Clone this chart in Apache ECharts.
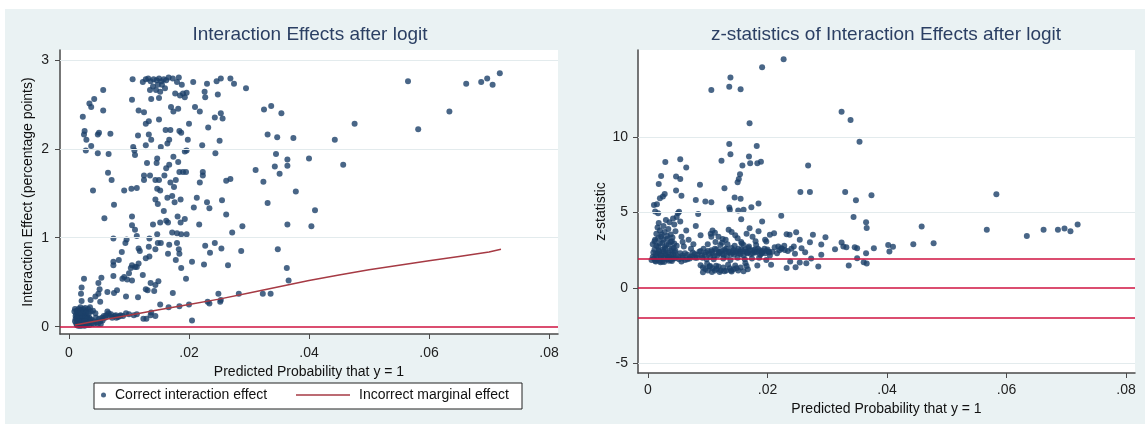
<!DOCTYPE html>
<html><head><meta charset="utf-8">
<script src="https://cdn.jsdelivr.net/npm/echarts@6/dist/echarts.min.js"></script>
<style>
html,body{margin:0;padding:0;background:#fff;}
#bg{position:absolute;left:5px;top:9px;width:1140px;height:415px;background:#eaf2f3;}
#chart{position:absolute;left:0;top:0;width:1145px;height:425px;}
</style></head><body>
<div id="bg"></div><div id="chart"></div>
<script>
const xTicks = [0, 0.02, 0.04, 0.06, 0.08];
const leftYTicks = [0, 1, 2, 3];
const rightYTicks = [-5, 0, 5, 10];
const leftGridLines = [1, 2, 3];
const rightGridLines = [-5, 5, 10];
const leftRefLines = [0];
const zCritical = [1.96, 0, -1.96];
const leftTitle = 'Interaction Effects after logit';
const rightTitle = 'z-statistics of Interaction Effects after logit';
const xName = 'Predicted Probability that y = 1';
const leftYName = 'Interaction Effect (percentage points)';
const rightYName = 'z-statistic';
const seriesNames = ['Correct interaction effect', 'Incorrect marginal effect'];

const interactionEffect = [
[0.0718,2.85],[0.0697,2.79],[0.0687,2.75],[0.0706,2.72],[0.0662,2.73],[0.0565,2.76],[0.0634,2.42],[0.0582,2.22],[0.0476,2.28],[0.0443,2.10],[0.0457,1.82],[0.0400,1.89],[0.0410,1.31],[0.0404,1.13],[0.0374,2.12],[0.0354,2.40],[0.0337,2.48],[0.0325,2.44],[0.0331,2.16],[0.0347,2.13],[0.0345,1.94],[0.0364,1.88],[0.0364,1.81],[0.0343,1.80],[0.0351,1.72],[0.0311,1.76],[0.0324,1.63],[0.0378,1.52],[0.0331,1.39],[0.0364,1.15],[0.0348,0.87],[0.0363,0.66],[0.0366,0.52],[0.0323,0.37],[0.0336,0.37],
[0.0295,2.68],[0.0269,2.79],[0.0275,2.73],[0.0253,2.79],[0.0246,2.76],[0.0248,2.61],[0.0230,2.73],[0.0226,2.64],[0.0227,2.58],[0.0210,2.47],[0.0218,2.42],[0.0207,2.75],[0.0253,2.40],[0.0256,2.34],[0.0243,2.35],[0.0232,2.24],[0.0251,2.09],[0.0222,2.04],[0.0244,1.95],[0.0223,1.74],[0.0223,1.70],[0.0218,1.62],[0.0230,1.40],[0.0255,1.42],[0.0213,1.45],[0.0234,1.33],[0.0208,1.34],[0.0262,1.26],[0.0269,1.66],[0.0262,1.64],[0.0272,1.06],[0.0289,1.13],[0.0217,1.15],[0.0227,0.91],[0.0243,0.94],[0.0235,0.83],[0.0254,0.88],[0.0287,0.85],[0.0265,0.69],[0.0205,0.73],[0.0225,0.70],[0.0195,0.54],[0.0249,0.37],[0.0231,0.28],[0.0234,0.26],[0.0253,0.30],[0.0252,0.28],[0.0283,0.37],[0.0205,0.07],[0.0200,0.25],
[0.0106,2.78],[0.0123,2.75],[0.0128,2.78],[0.0132,2.79],[0.0136,2.76],[0.0141,2.78],[0.0146,2.77],[0.0150,2.79],[0.0154,2.76],[0.0158,2.78],[0.0162,2.77],[0.0155,2.72],[0.0148,2.72],[0.0140,2.70],[0.0135,2.66],[0.0145,2.66],[0.0152,2.64],[0.0160,2.68],[0.0166,2.80],[0.0173,2.79],[0.0183,2.80],[0.0180,2.75],[0.0177,2.62],[0.0185,2.60],[0.0190,2.62],[0.0193,2.58],[0.0196,2.63],[0.0174,2.42],[0.0170,2.47],[0.0182,2.45],[0.0188,2.72],
[0.0137,2.56],[0.0150,2.57],[0.0116,2.43],[0.0125,2.41],[0.0128,2.28],[0.0133,2.31],[0.0150,2.33],[0.0105,2.55],[0.0133,2.16],[0.0115,2.15],[0.0137,2.10],[0.0161,2.21],[0.0169,2.21],[0.0167,2.10],[0.0184,2.20],[0.0187,2.18],[0.0200,2.28],[0.0198,2.10],[0.0164,2.06],[0.0196,1.98],[0.0153,2.02],[0.0128,2.04],[0.0107,2.02],[0.0109,1.98],[0.0110,1.93],[0.0174,1.91],[0.0182,1.85],[0.0193,1.97],[0.0147,1.89],[0.0146,1.84],[0.0130,1.84],[0.0167,1.82],[0.0162,1.78],[0.0184,1.74],[0.0190,1.74],[0.0195,1.74],[0.0159,1.70],[0.0125,1.70],[0.0135,1.70],[0.0125,1.65],[0.0144,1.65],[0.0150,1.65],[0.0169,1.62],[0.0178,1.65],[0.0175,1.57],[0.0147,1.55],[0.0152,1.53],[0.0104,1.55],[0.0113,1.56],[0.0092,1.53],[0.0164,1.45],[0.0172,1.47],[0.0176,1.40],[0.0186,1.43],[0.0144,1.43],[0.0148,1.38],[0.0158,1.30],[0.0105,1.24],[0.0105,1.14],[0.0110,1.09],[0.0113,1.02],[0.0096,0.98],[0.0094,0.94],[0.0134,0.99],[0.0147,1.04],[0.0172,1.06],[0.0180,1.05],[0.0187,1.04],[0.0196,1.04],[0.0162,1.19],[0.0165,1.17],[0.0181,1.24],[0.0186,1.17],[0.0193,1.21],[0.0152,1.17],[0.0140,1.15],[0.0148,0.94],[0.0153,0.94],[0.0167,0.92],[0.0180,0.94],[0.0183,0.87],[0.0184,0.82],[0.0178,0.75],[0.0187,0.66],[0.0165,0.82],[0.0144,0.87],[0.0133,0.90],[0.0116,0.88],[0.0118,0.85],[0.0134,0.79],[0.0128,0.77],[0.0116,0.71],[0.0110,0.67],[0.0105,0.69],[0.0113,0.67],[0.0103,0.66],[0.0100,0.60],[0.0088,0.84],[0.0083,0.75],[0.0074,0.73],[0.0074,0.69],[0.0092,0.56],[0.0089,0.54],[0.0097,0.53],[0.0105,0.52],[0.0123,0.58],[0.0136,0.49],[0.0144,0.47],[0.0149,0.51],[0.0128,0.42],[0.0131,0.41],[0.0142,0.40],[0.0173,0.38],[0.0080,0.41],[0.0075,0.38],[0.0095,0.34],[0.0115,0.33],[0.0074,0.57],[0.0064,0.39],[0.0052,0.28],[0.0152,0.25],[0.0166,0.22],[0.0184,0.23],[0.0137,0.16],[0.0136,0.13],[0.0124,0.09],[0.0129,0.09],[0.0144,0.12],[0.0113,0.14],[0.0095,0.15],[0.0086,0.13],[0.0078,0.13],
[0.0057,2.66],[0.0042,2.56],[0.0034,2.51],[0.0037,2.47],[0.0023,2.36],[0.0057,2.43],[0.0026,2.20],[0.0025,2.16],[0.0029,2.10],[0.0037,2.03],[0.0028,1.98],[0.0048,2.16],[0.0050,2.18],[0.0069,2.17],[0.0048,1.95],[0.0066,1.94],[0.0065,1.73],[0.0071,1.65],[0.0040,1.53],[0.0075,1.37],[0.0059,1.22],[0.0074,0.99],[0.0025,0.54],[0.0049,0.49],[0.0051,0.42],[0.0049,0.37],[0.0054,0.55],[0.0020,0.37],[0.0021,0.44],[0.0021,0.29],[0.0036,0.30],[0.0044,0.34],
[0.0010,0.20],[0.0013,0.18],[0.0016,0.20],[0.0020,0.19],[0.0024,0.20],[0.0028,0.18],[0.0032,0.20],[0.0036,0.17],[0.0012,0.14],[0.0015,0.12],[0.0018,0.15],[0.0022,0.13],[0.0026,0.14],[0.0030,0.12],[0.0034,0.10],[0.0011,0.09],[0.0014,0.07],[0.0017,0.09],[0.0021,0.08],[0.0025,0.10],[0.0029,0.07],[0.0033,0.05],[0.0012,0.04],[0.0016,0.03],[0.0020,0.05],[0.0024,0.03],[0.0028,0.04],[0.0013,0.02],[0.0018,0.01],[0.0023,0.02],[0.0030,0.02],[0.0038,0.04],[0.0042,0.06],[0.0046,0.05],[0.0048,0.03],[0.0052,0.06],[0.0045,0.10],[0.0050,0.09],[0.0055,0.10],[0.0058,0.12],[0.0062,0.13],[0.0066,0.15],[0.0064,0.17],[0.0068,0.12],[0.0072,0.10],[0.0076,0.12],[0.0082,0.11],[0.0085,0.12],[0.0040,0.18],[0.0044,0.15],[0.0019,0.22],[0.0027,0.21],[0.0035,0.22],
[0.0009,0.17],[0.0011,0.12],[0.0014,0.16],[0.0017,0.11],[0.0019,0.18],[0.0022,0.10],[0.0024,0.16],[0.0027,0.12],[0.0029,0.16],[0.0031,0.09],[0.0033,0.15],[0.0035,0.08],[0.0010,0.06],[0.0013,0.10],[0.0016,0.06],[0.0019,0.04],[0.0022,0.06],[0.0026,0.06],[0.0031,0.04],[0.0034,0.02],[0.0015,0.01],[0.0021,0.01],[0.0026,0.01],[0.0037,0.08],[0.0041,0.03],[0.0053,0.03],[0.0056,0.07],[0.0060,0.10],[0.0070,0.14],[0.0079,0.10],[0.0090,0.12],[0.0100,0.14],[0.0108,0.13]
];

const marginalEffect = [
[0.001,0.02],[0.005,0.07],[0.010,0.13],[0.015,0.19],[0.020,0.25],[0.025,0.31],[0.030,0.38],[0.035,0.45],[0.040,0.52],[0.045,0.58],[0.050,0.64],[0.055,0.69],[0.060,0.74],[0.065,0.79],[0.070,0.84],[0.072,0.87]
];

const zStatistic = [
[0.0227,15.18],[0.0191,14.65],[0.0138,13.98],[0.0136,13.36],[0.0155,13.19],[0.0106,13.14],[0.0170,10.93],[0.0324,11.70],[0.0339,11.15],[0.0354,9.71],[0.0136,9.56],[0.0182,9.42],[0.0138,8.87],[0.0169,8.72],[0.0171,8.27],[0.0183,8.27],[0.0189,8.38],[0.0158,8.12],[0.0123,8.45],[0.0054,8.54],[0.0029,8.36],[0.0064,7.99],[0.0022,7.43],[0.0047,7.39],[0.0054,7.23],[0.0154,7.54],[0.0152,7.23],[0.0150,7.01],[0.0268,8.12],[0.0018,6.90],[0.0087,6.84],[0.0128,6.62],[0.0255,6.37],[0.0271,6.37],[0.0330,6.37],[0.0374,6.15],[0.0348,5.82],[0.0583,6.22],[0.0020,5.95],[0.0025,6.06],[0.0028,6.24],[0.0047,6.46],[0.0056,6.11],[0.0080,5.84],[0.0096,5.73],[0.0106,5.69],[0.0145,6.00],[0.0155,5.91],[0.0185,5.60],[0.0173,5.35],[0.0136,5.33],[0.0137,5.18],[0.0151,5.13],[0.0160,5.18],[0.0010,5.51],[0.0015,5.55],[0.0012,5.07],[0.0017,4.96],[0.0191,4.40],[0.0156,4.56],[0.0223,4.78],[0.0344,4.71],[0.0365,4.36],[0.0366,3.98],[0.0458,4.07],[0.0567,3.85],[0.0634,3.45],[0.0662,3.85],[0.0686,3.85],[0.0697,3.94],[0.0707,3.76],[0.0719,4.20],[0.0478,2.96],[0.0444,2.90],[0.0410,2.72],[0.0402,2.85],[0.0404,2.41],[0.0378,2.63],[0.0365,2.30],[0.0350,2.63],[0.0346,2.70],[0.0327,2.74],[0.0324,3.01],[0.0332,2.70],[0.0336,1.48],[0.0350,1.97],[0.0361,1.70],[0.0366,1.62],[0.0313,2.57],[0.0297,3.36],[0.0276,3.52],[0.0271,3.03],[0.0263,2.37],[0.0273,1.95],[0.0265,1.64],[0.0290,2.19],[0.0290,2.88],[0.0285,1.42],[0.0248,3.69],[0.0232,3.56],[0.0237,3.52],[0.0254,3.19],[0.0257,2.63],[0.0244,2.74],[0.0246,2.26],[0.0254,1.68],[0.0247,1.37],[0.0238,1.75],[0.0232,1.31],[0.0206,1.53],[0.0183,1.48],[0.0163,1.64],[0.0167,1.24],[0.0211,3.63],[0.0204,3.52],[0.0196,3.19],[0.0198,3.08],[0.0218,2.74],[0.0223,2.63],[0.0229,2.52],
[0.0092,1.04],[0.0100,1.15],[0.0108,1.30],[0.0112,1.15],[0.0118,1.42],[0.0122,1.15],[0.0131,1.15],[0.0134,1.53],[0.0140,1.08],[0.0143,1.24],[0.0146,1.48],[0.0151,1.15],[0.0114,1.46],[0.0103,1.42],
[0.0010,1.95],[0.0012,1.80],[0.0014,2.10],[0.0016,2.30],[0.0018,2.50],[0.0020,2.20],[0.0022,2.00],[0.0024,1.75],[0.0026,2.40],[0.0028,2.70],[0.0030,2.20],[0.0032,1.90],[0.0034,2.35],[0.0036,2.05],[0.0038,1.85],[0.0040,2.60],[0.0042,2.25],[0.0044,1.95],[0.0046,2.45],[0.0048,2.80],[0.0050,2.10],[0.0052,1.90],[0.0054,2.30],[0.0056,1.75],[0.0058,2.00],[0.0062,1.85],[0.0066,2.20],[0.0070,1.95],[0.0074,2.10],[0.0078,2.25],[0.0082,2.00],[0.0086,2.40],[0.0090,2.15],
[0.0012,3.20],[0.0014,3.60],[0.0016,4.00],[0.0018,4.30],[0.0020,3.80],[0.0022,3.40],[0.0024,3.00],[0.0026,4.10],[0.0028,3.70],[0.0030,4.50],[0.0032,3.25],[0.0034,3.90],[0.0036,4.35],[0.0038,3.55],[0.0040,3.10],[0.0042,4.60],[0.0044,4.20],[0.0046,3.75],[0.0048,4.70],[0.0050,4.95],[0.0052,5.05],[0.0054,4.40],[0.0056,3.40],[0.0058,3.05],[0.0060,2.75],[0.0064,3.80],[0.0068,3.20],[0.0072,2.60],[0.0076,2.90],[0.0080,4.10],[0.0084,4.90],[0.0088,3.50],[0.0093,2.60],[0.0100,2.90],[0.0105,3.60],[0.0108,3.80],[0.0112,3.65],[0.0118,3.40],[0.0124,3.00],[0.0130,3.20],[0.0135,3.85],[0.0140,3.70],[0.0146,3.50],[0.0150,3.30],[0.0156,3.05],[0.0160,2.85],[0.0165,3.60],[0.0170,3.95],[0.0175,3.40],[0.0180,3.10],[0.0185,3.75],
[0.0095,2.20],[0.0100,2.45],[0.0104,2.05],[0.0108,2.30],[0.0112,2.60],[0.0116,2.15],[0.0120,2.40],[0.0124,2.25],[0.0128,2.55],[0.0132,2.10],[0.0136,2.35],[0.0140,2.65],[0.0144,2.20],[0.0148,2.45],[0.0152,2.30],[0.0156,2.55],[0.0160,2.15],[0.0164,2.40],[0.0168,2.65],[0.0172,2.25],[0.0176,2.50],[0.0180,2.35],[0.0184,2.60],[0.0188,2.20],[0.0192,2.45],[0.0196,2.30],[0.0200,2.55],[0.0204,2.15],[0.0208,2.40],[0.0212,2.70],[0.0216,2.30],[0.0220,2.50],[0.0224,2.60],[0.0228,2.80],[0.0234,2.45],[0.0240,2.60],[0.0106,2.50],[0.0118,2.35],[0.0130,2.45],[0.0142,2.35],[0.0154,2.40],[0.0166,2.30],[0.0178,2.40],[0.0190,2.30],[0.0202,2.40],[0.0110,1.90],[0.0126,1.95],[0.0138,1.85],[0.0150,2.00],[0.0162,1.90],[0.0174,1.95],[0.0186,2.00],[0.0198,1.85],[0.0098,1.90],
[0.0006,1.85],[0.0008,2.05],[0.0009,2.35],[0.0011,2.55],[0.0013,2.25],[0.0015,1.90],[0.0017,2.75],[0.0019,2.40],[0.0021,1.70],[0.0023,2.15],[0.0025,2.55],[0.0027,1.95],[0.0029,2.30],[0.0031,2.85],[0.0033,2.05],[0.0035,1.80],[0.0037,2.50],[0.0039,2.20],[0.0041,1.95],[0.0043,2.65],[0.0045,2.35],[0.0008,2.90],[0.0011,3.10],[0.0014,2.80],[0.0017,3.30],[0.0020,2.95],[0.0023,3.55],[0.0026,3.20],[0.0029,2.60],[0.0032,3.45],[0.0035,2.90],[0.0038,3.05],[0.0041,3.35],[0.0044,2.95],[0.0013,1.75],[0.0019,1.80],[0.0027,1.72],[0.0034,1.95],[0.0040,1.78],[0.0047,2.00],
[0.0058,2.15],[0.0062,2.30],[0.0066,1.90],[0.0070,2.05],[0.0075,2.35],[0.0079,2.00],[0.0083,2.20],[0.0088,2.45],[0.0091,2.00],[0.0097,2.35],[0.0102,2.25],[0.0107,2.40],[0.0111,2.10],[0.0115,2.55],[0.0119,2.30],[0.0123,2.45],[0.0127,2.20],[0.0131,2.60],[0.0135,2.40],[0.0139,2.25],[0.0143,2.50],[0.0147,2.35],[0.0151,2.60],[0.0155,2.25],[0.0159,2.45],[0.0163,2.55],[0.0167,2.35],[0.0171,2.50],[0.0175,2.30],[0.0179,2.55],[0.0183,2.40],[0.0187,2.50],[0.0191,2.35],[0.0195,2.60],[0.0199,2.45],[0.0203,2.35],[0.0121,2.85],[0.0133,2.90],[0.0145,2.80],[0.0157,2.95],[0.0169,2.75],[0.0181,2.85],[0.0113,3.05],[0.0125,3.25],[0.0106,3.40],
[0.0088,1.50],[0.0092,1.35],[0.0096,1.25],[0.0099,1.60],[0.0104,1.45],[0.0107,1.05],[0.0115,1.25],[0.0120,1.05],[0.0126,1.35],[0.0128,1.10],[0.0137,1.30],[0.0139,1.15],[0.0148,1.30],[0.0155,1.35],[0.0160,1.10],[0.0165,1.45]
];

const FONT = '"Liberation Sans", Arial, sans-serif';
const dotColor = '#1b4069';
const refRed = '#cf1240';
const marginalColor = '#a63a44';
const gridColor = '#e3ebed';
const axisColor = '#4a4a4a';

function fmtX(v) {
  if (Math.abs(v) < 1e-9) return '0';
  return v.toFixed(2).replace(/^0/, '');
}

function xAxisCfg(gi, min, max, margin, nameGap) {
  return {
    gridIndex: gi, type: 'value', min: min, max: max,
    axisLine: {show: true, onZero: false, lineStyle: {color: axisColor, width: 1.5}},
    axisTick: {show: true, length: 5, customValues: xTicks, lineStyle: {color: axisColor, width: 1}},
    axisLabel: {customValues: xTicks, formatter: fmtX, margin: margin, fontSize: 14, color: '#1e1e1e', fontFamily: FONT},
    splitLine: {show: false},
    name: xName, nameLocation: 'middle', nameGap: nameGap,
    nameTextStyle: {fontSize: 14, color: '#111', fontFamily: FONT}
  };
}
function yAxisCfg(gi, min, max, ticks, name, nameGap, margin) {
  return {
    gridIndex: gi, type: 'value', min: min, max: max,
    axisLine: {show: true, onZero: false, lineStyle: {color: axisColor, width: 1.5}},
    axisTick: {show: true, length: 5, customValues: ticks, lineStyle: {color: axisColor, width: 1}},
    axisLabel: {customValues: ticks, margin: margin, fontSize: 14, color: '#1e1e1e', fontFamily: FONT},
    splitLine: {show: false},
    name: name, nameLocation: 'middle', nameGap: nameGap, nameRotate: 90,
    nameTextStyle: {fontSize: 14, color: '#111', fontFamily: FONT}
  };
}
function hLines(values, color, width) {
  return {
    silent: true, symbol: ['none', 'none'], animation: false,
    label: {show: false},
    lineStyle: {type: 'solid', color: color, width: width},
    emphasis: {disabled: true},
    data: values.map(v => ({yAxis: v}))
  };
}

const chart = echarts.init(document.getElementById('chart'), null, {renderer: 'canvas'});
chart.setOption({
  backgroundColor: 'transparent',
  animation: false,
  title: [
    {text: leftTitle, left: 310, top: 35, textAlign: 'center', textVerticalAlign: 'middle', padding: 0,
     textStyle: {fontSize: 19, fontWeight: 'normal', color: '#2b3f63', fontFamily: FONT}},
    {text: rightTitle, left: 886, top: 35, textAlign: 'center', textVerticalAlign: 'middle', padding: 0,
     textStyle: {fontSize: 19, fontWeight: 'normal', color: '#2b3f63', fontFamily: FONT}}
  ],
  graphic: [
    {type: 'rect', shape: {x: 94, y: 383, width: 428, height: 26},
     style: {fill: '#ffffff', stroke: '#222', lineWidth: 1}, silent: true}
  ],
  legend: [
    {data: [seriesNames[0]], left: 101, top: 388, padding: 0, itemWidth: 5, itemHeight: 5, icon: 'circle',
     selectedMode: false,
     textStyle: {fontSize: 14, color: '#111', fontFamily: FONT, padding: [0, 0, 0, 4]}},
    {data: [seriesNames[1]], left: 296, top: 388, padding: 0, itemWidth: 54, itemHeight: 1.5, icon: 'rect',
     selectedMode: false,
     textStyle: {fontSize: 14, color: '#111', fontFamily: FONT, padding: [0, 0, 0, 4]}}
  ],
  grid: [
    {left: 60, top: 50, width: 498, height: 284, show: true, backgroundColor: '#ffffff', borderWidth: 0},
    {left: 638, top: 50, width: 497, height: 323, show: true, backgroundColor: '#ffffff', borderWidth: 0}
  ],
  xAxis: [
    xAxisCfg(0, -0.0015, 0.0815, 12, 24),
    xAxisCfg(1, -0.00167, 0.0815, 10, 22)
  ],
  yAxis: [
    yAxisCfg(0, -0.082, 3.11, leftYTicks, leftYName, 25, 11),
    yAxisCfg(1, -5.66, 15.8, rightYTicks, rightYName, 29, 10)
  ],
  series: [
    {type: 'line', xAxisIndex: 0, yAxisIndex: 0, data: [], silent: true, markLine: hLines(leftGridLines, gridColor, 1.2)},
    {type: 'line', xAxisIndex: 1, yAxisIndex: 1, data: [], silent: true, markLine: hLines(rightGridLines, gridColor, 1.2)},
    {name: seriesNames[0], type: 'scatter', xAxisIndex: 0, yAxisIndex: 0, data: interactionEffect,
     symbol: 'circle', symbolSize: 6, itemStyle: {color: dotColor}, silent: true,
     markLine: hLines(leftRefLines, refRed, 1.5)},
    {name: seriesNames[1], type: 'line', xAxisIndex: 0, yAxisIndex: 0, data: marginalEffect,
     symbol: 'none', showSymbol: false, lineStyle: {color: marginalColor, width: 1.5}, itemStyle: {color: marginalColor}, silent: true},
    {name: 'z-statistic', type: 'scatter', xAxisIndex: 1, yAxisIndex: 1, data: zStatistic,
     symbol: 'circle', symbolSize: 6, itemStyle: {color: dotColor}, silent: true,
     markLine: hLines(zCritical, refRed, 1.5)}
  ]
});
</script>
</body></html>
